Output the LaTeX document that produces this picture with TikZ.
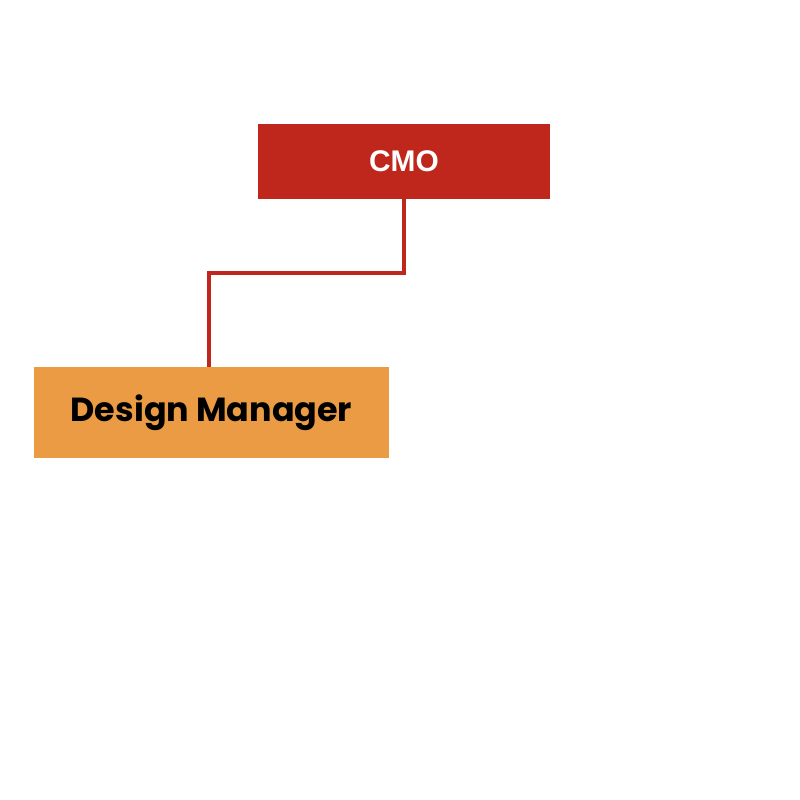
\documentclass[tikz,border=0pt]{standalone}
\usepackage{fontspec}
\setmainfont{Liberation Sans}
\newfontfamily\dmfont{Poppins}
\definecolor{cmored}{HTML}{BF271C}
\definecolor{dmorange}{HTML}{EB9B43}
\tikzset{
  topbox/.style={fill=cmored, text=white, minimum width=5.84cm, minimum height=1.5cm,
    inner sep=0pt, font=\fontsize{17}{20}\selectfont\bfseries},
  subbox/.style={fill=dmorange, text=black, minimum width=7.1cm, minimum height=1.82cm,
    inner sep=0pt, font=\dmfont\fontsize{19}{22}\selectfont\bfseries},
  link/.style={draw=cmored, line width=2.3pt}
}
\begin{document}
\begin{tikzpicture}[x=0.02cm, y=-0.02cm]
  \useasboundingbox (0,0) rectangle (800,800);
  \node[topbox] (cmo) at (404,161.5) {CMO};
  \node[subbox] (dm) at (211.5,412.5) {Design Manager};
  % elbow connector
  \draw[link] (cmo.south) |- (209,273) -- (dm.north -| 209,0);
\end{tikzpicture}
\end{document}
